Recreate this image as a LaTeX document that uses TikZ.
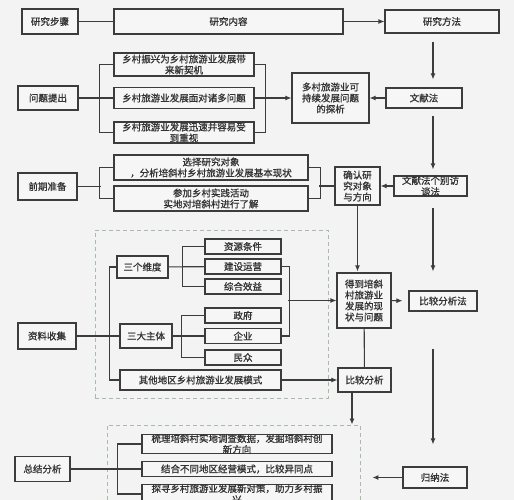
\documentclass[tikz,border=0pt]{standalone}
\usepackage{fontspec}
\setmainfont{Noto Sans CJK SC}[FakeBold=1]
\usetikzlibrary{arrows.meta}
\definecolor{bgcol}{HTML}{F3F3F3}
\definecolor{boxfill}{HTML}{F6F6F6}
\definecolor{linecol}{HTML}{3C3C3C}
\definecolor{txtcol}{HTML}{333333}
\definecolor{grpcol}{HTML}{A8BAA8}

\begin{document}
\begin{tikzpicture}[x=1pt, y=-1pt, line width=1.1pt, color=linecol,
        box/.style={draw=linecol, fill=boxfill, inner sep=0pt, align=center,
          text=txtcol, font=\fontsize{9.5}{11}\selectfont},
        grp/.style={draw=grpcol, dash pattern=on 4pt off 3pt, line width=0.9pt, inner sep=0pt},
        arr/.style={-{Latex[length=6pt,width=5pt]}}]
        \clip (0,0) rectangle (514,500);
        \fill[bgcol] (0,0) rectangle (514,500);
        \node[grp, minimum width=233, minimum height=168] (grpA) at (211.5,314) {};
        \node[grp, minimum width=253, minimum height=95] (grpB) at (233.5,472.5) {};

        \node[box, minimum width=56, minimum height=25] (step) at (50,21.5) {研究步骤};
        \node[box, minimum width=229, minimum height=25] (content) at (228.5,21.5) {研究内容};
        \node[box, minimum width=114, minimum height=23] (method) at (442,21.5) {研究方法};

        \node[box, minimum width=60, minimum height=24] (q) at (48,98) {问题提出};
        \node[box, minimum width=140, minimum height=23] (a1) at (184,64.5) {乡村振兴为乡村旅游业发展带\\来新契机};
        \node[box, minimum width=140, minimum height=21] (a2) at (184,98) {乡村旅游业发展面对诸多问题};
        \node[box, minimum width=140, minimum height=21] (a3) at (184,132.5) {乡村旅游业发展迅速并容易受\\到重视};
        \node[box, minimum width=77, minimum height=50] (tanxi) at (330.5,98) {多村旅游业可\\持续发展问题\\的探析};
        \node[box, minimum width=76, minimum height=20] (wenxian) at (424,98) {文献法};

        \node[box, minimum width=59, minimum height=27] (p) at (47.5,186.5) {前期准备};
        \node[box, minimum width=194, minimum height=25] (b1) at (211,167.5) {选择研究对象\\，分析培斜村乡村旅游业发展基本现状};
        \node[box, minimum width=194, minimum height=25] (b2) at (211,198.5) {参加乡村实践活动\\实地对培斜村进行了解};
        \node[box, minimum width=45, minimum height=38] (confirm) at (357.5,186) {确认研\\究对象\\与方向};
        \node[box, minimum width=73, minimum height=20] (interview) at (430.5,186) {文献法个别访\\谈法};

        \node[box, minimum width=58, minimum height=26] (collect) at (47,336) {资料收集};
        \node[box, minimum width=51, minimum height=22] (dim) at (142.5,267) {三个维度};
        \node[box, minimum width=52, minimum height=24] (subj) at (146,336) {三大主体};
        \node[box, minimum width=161, minimum height=20] (other) at (200.5,380) {其他地区乡村旅游业发展模式};
        \node[box, minimum width=76, minimum height=15] (r1) at (243,246.5) {资源条件};
        \node[box, minimum width=76, minimum height=15] (r2) at (243,266.5) {建设运营};
        \node[box, minimum width=76, minimum height=15] (r3) at (243,286.5) {综合效益};
        \node[box, minimum width=76, minimum height=15] (s1) at (243,315.5) {政府};
        \node[box, minimum width=76, minimum height=15] (s2) at (243,336) {企业};
        \node[box, minimum width=76, minimum height=15] (s3) at (243,357.5) {民众};
        \node[box, minimum width=54, minimum height=55] (status) at (364,300.5) {得到培斜\\村旅游业\\发展的现\\状与问题};
        \node[box, minimum width=68, minimum height=20] (compare) at (443,301) {比较分析法};
        \node[box, minimum width=53, minimum height=24] (cmp) at (364.5,380) {比较分析};

        \node[box, minimum width=55, minimum height=25] (sum) at (42.5,469) {总结分析};
        \node[box, minimum width=190, minimum height=18] (c1) at (237,444) {梳理培斜村实地调查数据，发掘培斜村创\\新方向};
        \node[box, minimum width=190, minimum height=15] (c2) at (237,469) {结合不同地区经营模式，比较异同点};
        \node[box, minimum width=190, minimum height=18] (c3) at (237,494) {探寻乡村旅游业发展新对策，助力乡村振\\兴};
        \node[box, minimum width=64, minimum height=21] (induce) at (435,477.5) {归纳法};

        \coordinate (col) at (433,0);
        \draw (step) -- (content);
        \draw[arr] (content) -- (method);
        \draw[arr, shorten <=8pt, shorten >=8pt] (method.south -| col) -- (wenxian.north -| col);
        \draw[arr, shorten <=7pt, shorten >=6pt] (wenxian.south -| col) -- (interview.north -| col);
        \draw[arr, shorten <=11pt, shorten >=19pt] (interview.south -| col) -- (compare.north -| col);
        \draw[arr, shorten <=37pt, shorten >=22pt] (compare.south -| col) -- (induce.north -| col);

        \draw (a1.west) -- ++(-14,0) |- (a3.west);
        \draw (q) -- (a2);
        \draw (a1.east) -- ++(11,0) |- (a3.east);
        \draw[arr] (a2) -- (tanxi);
        \draw[arr] (wenxian) -- (tanxi);

        \draw (b1.west) -- ++(-14,0) |- (b2.west);
        \draw (p.east) -- ++(23,0);
        \draw (b1.east) -- ++(12,0) |- (b2.east);
        \draw (confirm.west) -- ++(-15,0);
        \draw[arr] (interview) -- (confirm);
        \draw[arr, shorten >=1pt] (confirm.south) -- (status.north -| confirm.south);

        \draw (dim.west) -- ++(-7,0) |- (other.west);
        \draw (collect) -- (subj);
        \draw (r1.west) -- ++(-22,0) |- (r3.west);
        \draw (dim) -- (r2);
        \draw (s1.west) -- ++(-23,0) |- (s3.west);
        \draw (subj) -- (s2);
        \draw (r2.east) -- ++(8,0) |- (s2.east);
        \draw[arr] ([xshift=-48pt]status.west) -- (status.west);
        \draw[arr, shorten >=6pt] (status) -- (compare);
        \draw (status) -- (cmp);
        \draw[arr] (other) -- (cmp);
        \draw[arr] ([xshift=-12.5pt]cmp.south) -- ([xshift=-12.5pt]cmp.south |- grpB.north);

        \draw (c1.west) -- ++(-24,0) |- (c3.west);
        \draw (sum) -- (c2);
        \draw[arr, shorten >=12pt] (induce.west) -- (grpB.east |- induce.west);
      \end{tikzpicture}
\end{document}
